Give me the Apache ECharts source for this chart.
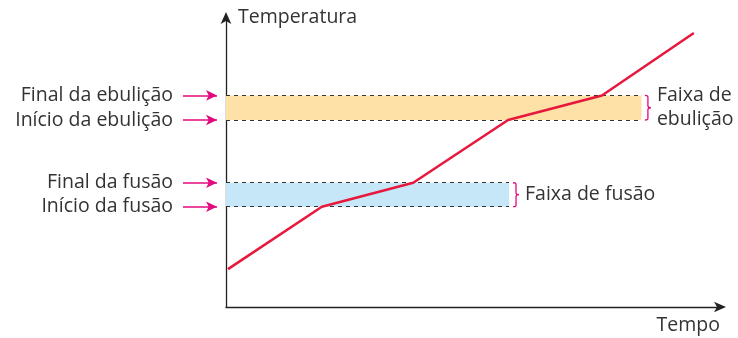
<!DOCTYPE html>
<html><head><meta charset="utf-8">
<script src="https://cdn.jsdelivr.net/npm/echarts@6/dist/echarts.min.js"></script>
<style>html,body{margin:0;padding:0;background:#fff}#c{width:738px;height:338px}</style>
</head><body><div id="c"></div>
<script>
// ---- data ----
const timeValues = [0.4, 19.4, 37.9, 57.1, 76.1, 94.7];
const tempValues = [13.1, 34.7, 43.0, 64.7, 73.2, 94.8];
const fusionRange = [34.7, 43.0];      // início, final da fusão
const ebulicaoRange = [64.7, 73.2];    // início, final da ebulição
const fusionBandEnd = 57.3;
const ebulicaoBandEnd = 84.1;
const levelLabels = ['Início da fusão', 'Final da fusão', 'Início da ebulição', 'Final da ebulição'];
const levelValues = [fusionRange[0], fusionRange[1], ebulicaoRange[0], ebulicaoRange[1]];
const bandNames = ['Faixa de fusão', 'Faixa de\nebulição'];
const xAxisName = 'Tempo';
const yAxisName = 'Temperatura';

const FONT = '"Open Sans", sans-serif';
const FS = 19.5;
const TXT = '#333';
const MAG = '#e4087e';

const chart = echarts.init(document.getElementById('c'), null, {renderer: 'canvas'});

const dashed = {type: [4, 4], color: '#333', width: 1};
function edgeLine(y, xEnd) {
  return [{coord: [0, y]}, {coord: [xEnd, y]}];
}

const braceData = [
  [fusionBandEnd + 0.8, fusionRange[0], fusionRange[1], bandNames[0]],
  [ebulicaoBandEnd + 0.7, ebulicaoRange[0], ebulicaoRange[1], bandNames[1]]
];

const option = {
  animation: false,
  grid: [
    {left: 226, right: 18, top: 18, bottom: 31, containLabel: false},
    {left: 0, width: 226, top: 18, bottom: 31, containLabel: false}
  ],
  xAxis: [{
    type: 'value', min: 0, max: 100, gridIndex: 0,
    axisLine: {show: true, symbol: ['none', 'arrow'], symbolSize: [8, 12], symbolOffset: [0, 6], lineStyle: {color: '#222', width: 1.3}},
    axisTick: {show: false}, axisLabel: {show: false}, splitLine: {show: false},
    name: xAxisName, nameLocation: 'end', nameGap: 0,
    nameTextStyle: {align: 'right', verticalAlign: 'top', padding: [8, 0, 0, 0], fontFamily: FONT, fontSize: FS, color: TXT}
  }, {
    type: 'value', min: 0, max: 226, gridIndex: 1, show: false
  }],
  yAxis: [{
    type: 'value', min: 0, max: 100, gridIndex: 0,
    axisLine: {show: true, symbol: ['none', 'arrow'], symbolSize: [8, 12], symbolOffset: [0, 6], lineStyle: {color: '#222', width: 1.3}},
    axisTick: {show: false}, axisLabel: {show: false}, splitLine: {show: false},
    name: yAxisName, nameLocation: 'end', nameGap: 1,
    nameTextStyle: {align: 'left', verticalAlign: 'middle', padding: [0, 0, 0, 12], fontFamily: FONT, fontSize: FS, color: TXT}
  }, {
    type: 'value', min: 0, max: 100, gridIndex: 1, show: false
  }],
  series: [
    {
      type: 'line', silent: true, clip: false, z: 2,
      data: [],
      markArea: {
        silent: true,
        data: [
          [{xAxis: 0, yAxis: fusionRange[0], itemStyle: {color: '#c6e7f8'}}, {xAxis: fusionBandEnd, yAxis: fusionRange[1]}],
          [{xAxis: 0, yAxis: ebulicaoRange[0], itemStyle: {color: '#fde1a6'}}, {xAxis: ebulicaoBandEnd, yAxis: ebulicaoRange[1]}]
        ]
      },
      markLine: {
        silent: true, symbol: ['none', 'none'], label: {show: false},
        lineStyle: dashed,
        data: [
          edgeLine(fusionRange[0], fusionBandEnd),
          edgeLine(fusionRange[1], fusionBandEnd),
          edgeLine(ebulicaoRange[0], ebulicaoBandEnd),
          edgeLine(ebulicaoRange[1], ebulicaoBandEnd)
        ]
      }
    },
    {
      type: 'line', silent: true, clip: false, z: 5,
      data: timeValues.map((t, i) => [t, tempValues[i]]),
      symbol: 'none',
      lineStyle: {color: '#e8173c', width: 2.5}
    },
    {
      type: 'line', silent: true, xAxisIndex: 1, yAxisIndex: 1, data: [],
      markLine: {
        silent: true,
        symbol: ['none', 'arrow'], symbolSize: [8, 11],
        lineStyle: {color: MAG, width: 1.6, type: 'solid'},
        label: {show: true, position: 'start', distance: 10, color: TXT, fontFamily: FONT, fontSize: FS},
        data: levelValues.map((v, i) => [
          {coord: [183, v], name: levelLabels[i], label: {formatter: levelLabels[i]}},
          {coord: [217, v]}
        ])
      }
    },
    {
      type: 'custom', silent: true, clip: false, z: 6,
      data: braceData,
      renderItem: function (params, api) {
        const p0 = api.coord([api.value(0), api.value(2)]);
        const p1 = api.coord([api.value(0), api.value(1)]);
        const w = 6;
        const h = p1[1] - p0[1];
        const name = braceData[params.dataIndex][3];
        return {
          type: 'group',
          children: [
            {
              type: 'path',
              shape: {
                pathData: 'M0,0 C5,0 5,2 5,8 L5,42 C5,48 6,50 10,50 C6,50 5,52 5,58 L5,92 C5,98 5,100 0,100',
                x: p0[0], y: p0[1], width: w, height: h, layout: 'cover'
              },
              style: {fill: 'none', stroke: MAG, lineWidth: 1.3}
            },
            {
              type: 'text',
              x: p0[0] + w + 6, y: p0[1] + h / 2,
              style: {text: name, fill: TXT, font: FS + 'px ' + FONT, align: 'left', verticalAlign: 'middle', lineHeight: 24}
            }
          ]
        };
      }
    }
  ]
};
chart.setOption(option);
</script></body></html>
